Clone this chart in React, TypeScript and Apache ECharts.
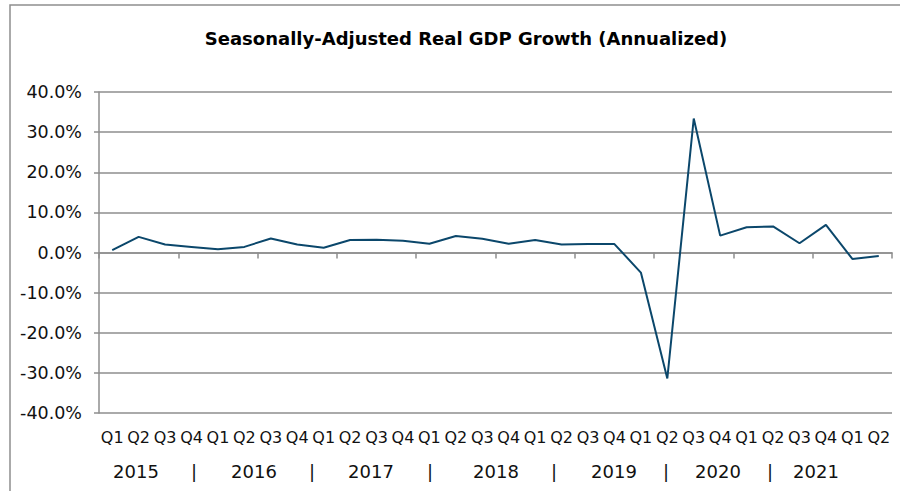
import React, { useEffect, useRef } from "react";
import * as echarts from "echarts";

// Quarterly real GDP growth, seasonally adjusted annual rate (%)
const quarters: string[] = [
  "2015 Q1", "2015 Q2", "2015 Q3", "2015 Q4",
  "2016 Q1", "2016 Q2", "2016 Q3", "2016 Q4",
  "2017 Q1", "2017 Q2", "2017 Q3", "2017 Q4",
  "2018 Q1", "2018 Q2", "2018 Q3", "2018 Q4",
  "2019 Q1", "2019 Q2", "2019 Q3", "2019 Q4",
  "2020 Q1", "2020 Q2", "2020 Q3", "2020 Q4",
  "2021 Q1", "2021 Q2", "2021 Q3", "2021 Q4",
  "2022 Q1", "2022 Q2",
];

const growth: number[] = [
  0.6, 3.9, 2.0, 1.4,
  0.8, 1.4, 3.5, 2.0,
  1.2, 3.1, 3.2, 2.9,
  2.2, 4.1, 3.4, 2.2,
  3.1, 2.0, 2.1, 2.1,
  -5.0, -31.4, 33.4, 4.2,
  6.3, 6.5, 2.3, 6.9,
  -1.6, -0.9,
];

// Row of year captions under the quarter labels
const yearRow: string[] = [
  "2015", "|", "2016", "|", "2017", "|", "2018", "|", "2019", "|", "2020", "|", "2021",
];
const yearRowX = [136, 194, 254, 312, 371, 430, 496, 554, 614, 666, 718, 770, 816];

const FONT = "Verdana, 'DejaVu Sans', sans-serif";
const GRID_COLOR = "#8e8e8e";
const LINE_COLOR = "#0b476b";

export default function App() {
  const ref = useRef<HTMLDivElement>(null);

  useEffect(() => {
    if (!ref.current) return;
    const chart = echarts.init(ref.current, undefined, { renderer: "svg" });

    const yearTexts = yearRow.map((t, i) => ({
      type: "text",
      x: yearRowX[i],
      y: 471,
      style: {
        text: t,
        fontFamily: FONT,
        fontSize: 18,
        fill: "#111",
        textAlign: "center",
        textVerticalAlign: "middle",
      },
    }));

    chart.setOption({
      animation: false,
      backgroundColor: "#fff",
      title: {
        text: "Seasonally-Adjusted Real GDP Growth (Annualized)",
        left: 461,
        textAlign: "center",
        top: 24,
        textStyle: {
          fontFamily: FONT,
          fontSize: 18,
          fontWeight: "bold",
          color: "#000",
        },
      },
      grid: { left: 99, right: 8, top: 92, bottom: 78, containLabel: false },
      xAxis: [
        {
          // zero line with downward ticks
          type: "category",
          data: quarters,
          position: "top",
          boundaryGap: true,
          axisLine: { show: true, onZero: true, lineStyle: { color: GRID_COLOR, width: 1.5 } },
          axisTick: { show: true, inside: true, length: 6, lineStyle: { color: GRID_COLOR, width: 1.5 } },
          axisLabel: { show: false },
          splitLine: { show: false },
        },
        {
          // quarter labels along the bottom
          type: "category",
          data: quarters,
          position: "bottom",
          boundaryGap: true,
          axisLine: { show: false, onZero: false },
          axisTick: { show: false },
          axisLabel: {
            show: true,
            interval: 0,
            margin: 16,
            fontFamily: FONT,
            fontSize: 16,
            color: "#111",
            formatter: (v: string) => v.split(" ")[1],
          },
          splitLine: { show: false },
        },
      ],
      yAxis: {
        type: "value",
        min: -40,
        max: 40,
        interval: 10,
        axisLine: { show: true, lineStyle: { color: GRID_COLOR, width: 1.5 } },
        axisTick: { show: true, length: 5, lineStyle: { color: GRID_COLOR, width: 1.5 } },
        axisLabel: {
          margin: 17,
          fontFamily: FONT,
          fontSize: 17.5,
          color: "#111",
          formatter: (v: number) => `${v.toFixed(1)}%`,
        },
        splitLine: { show: true, lineStyle: { color: GRID_COLOR, width: 1.5 } },
      },
      series: [
        {
          type: "line",
          xAxisIndex: 0,
          data: growth,
          symbol: "none",
          lineStyle: { color: LINE_COLOR, width: 2 },
          z: 5,
        },
      ],
      graphic: [
        {
          type: "rect",
          shape: { x: 10, y: 5, width: 900, height: 500 },
          style: { fill: "none", stroke: GRID_COLOR, lineWidth: 1.5 },
          silent: true,
          z: -1,
        },
        ...yearTexts,
      ],
    });

    return () => chart.dispose();
  }, []);

  return (
    <div
      ref={ref}
      style={{ position: "fixed", left: 0, top: 0, width: 900, height: 491 }}
    />
  );
}
